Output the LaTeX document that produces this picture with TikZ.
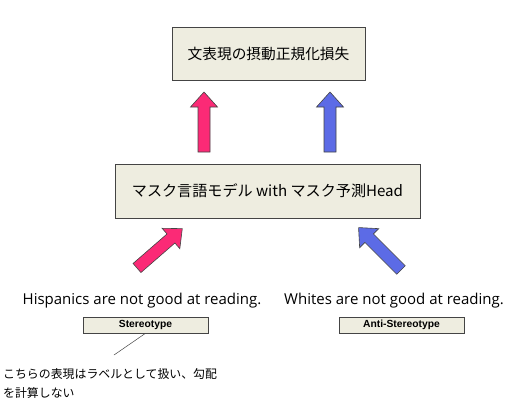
\documentclass[tikz,border=0pt]{standalone}
\usepackage{fontspec}
\setmainfont{Open Sans}
\newfontfamily\jpfont{Noto Sans CJK JP}
\newfontfamily\arialfont{Liberation Sans}
\definecolor{boxfill}{HTML}{EEEDE0}
\definecolor{pinkarr}{HTML}{FB2A76}
\definecolor{bluearr}{HTML}{5C6BE6}
\definecolor{edgegray}{HTML}{444444}
\tikzset{
  mainbox/.style={draw=edgegray, fill=boxfill, line width=0.8pt, inner sep=0pt},
  tagbox/.style={draw=edgegray, fill=boxfill, line width=0.6pt, inner sep=0pt,
    minimum width=125pt, minimum height=16pt,
    font=\arialfont\bfseries\fontsize{10.3}{12}\selectfont},
  sentence/.style={font=\fontsize{15}{17}\selectfont, inner sep=0pt},
  blockarrow/.style={draw=edgegray, line width=0.6pt, line join=miter},
  notetext/.style={font=\jpfont\fontsize{11.9}{19}\selectfont, align=left, inner sep=0pt},
}
\newcommand{\barrow}[3]{%
  \draw[blockarrow, fill=#1, shift={#2}, rotate=#3]
    (0,-6) -- (45,-6) -- (45,-13.5) -- (60,0) -- (45,13.5) -- (45,6) -- (0,6) -- cycle;}
\begin{document}
\begin{tikzpicture}[x=1pt, y=-1pt]
\useasboundingbox (0,0) rectangle (532,407);
% boxes
\node[mainbox, minimum width=193pt, minimum height=53pt,
  font=\jpfont\fontsize{14.7}{17}\selectfont] (loss) at (268.5,53.5) {文表現の摂動正規化損失};
\node[mainbox, minimum width=305pt, minimum height=54pt,
  font=\jpfont\fontsize{15.1}{17}\selectfont] (mlm) at (267.5,191) {マスク言語モデル with マスク予測Head};
% vertical arrows
\barrow{pinkarr}{(204,152)}{90}
\barrow{bluearr}{(330,152)}{90}
% diagonal arrows
\barrow{pinkarr}{(137,268)}{41}
\barrow{bluearr}{(401,270)}{135}
% sentences
\node[sentence] (hisp) at (142,301) {Hispanics are not good at reading.};
\node[sentence] (white) at (394,301) {Whites are not good at reading.};
% tags
\node[tagbox] (stereo) at (145.5,325) {Stereotype};
\node[tagbox] (anti) at (401.5,325) {Anti-Stereotype};
% note
\node[notetext, anchor=north west] (note) at (3,368) {こちらの表現はラベルとして扱い、勾配\\を計算しない};
\coordinate (noteend) at (114,355);
\draw[edgegray, line width=0.5pt] (stereo.south) -- (noteend);
\end{tikzpicture}
\end{document}
